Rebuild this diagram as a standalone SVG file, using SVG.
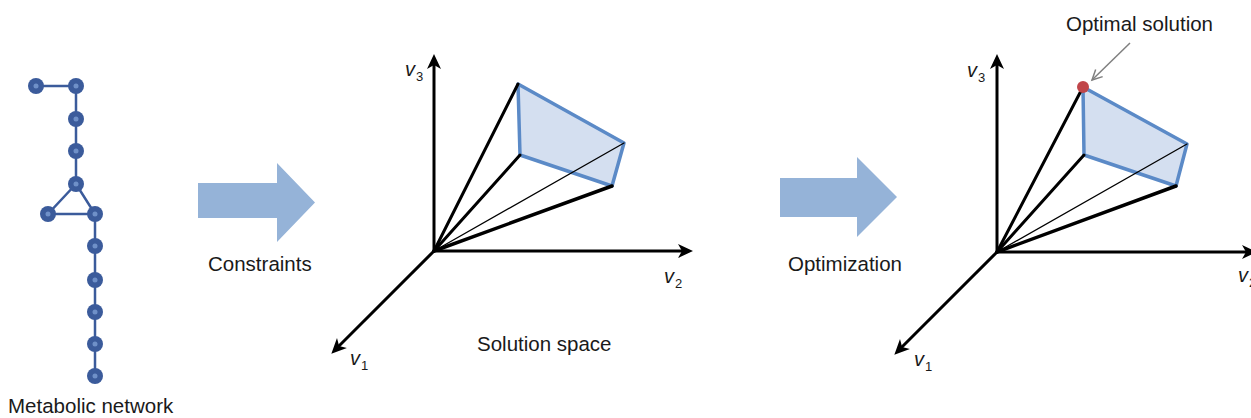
<svg xmlns="http://www.w3.org/2000/svg" width="1251" height="418" viewBox="0 0 1251 418">
  <defs>
    <marker id="ax" markerUnits="userSpaceOnUse" markerWidth="18" markerHeight="14" refX="6" refY="7" orient="auto" overflow="visible">
      <path d="M0,0 L15,7 L0,14 L4,7 Z" fill="#000"/>
    </marker>
    <marker id="gray" markerUnits="userSpaceOnUse" markerWidth="12" markerHeight="12" refX="10" refY="5" orient="auto" overflow="visible">
      <path d="M0,0 L10,5 L0,10" fill="none" stroke="#7f7f7f" stroke-width="1.5"/>
    </marker>
  </defs>
  <style>
    .lbl { font-family: "Liberation Sans", Arial, sans-serif; font-size: 20.5px; fill: #1a1a1a; }
    .var { font-family: "Liberation Sans", Arial, sans-serif; font-size: 20px; font-style: italic; fill: #1a1a1a; }
    .sub { font-family: "Liberation Sans", Arial, sans-serif; font-size: 13px; fill: #1a1a1a; }
    .edge { stroke: #3b5b9b; stroke-width: 2.5; fill: none; }
    .node { fill: #3b5b9b; }
    .core { fill: #6f90c8; }
    .axis { stroke: #000; stroke-width: 3; fill: none; marker-end: url(#ax); }
    .ray { stroke: #000; fill: none; stroke-linecap: round; }
    .face { fill: #d4dff0; stroke: #5b8ac7; stroke-width: 3.5; stroke-linejoin: round; }
    .bigarrow { fill: #95b3d8; }
  </style>

  <!-- Metabolic network -->
  <g id="network">
    <g id="network-edges">
      <path class="edge" d="M36,86 L76,86 L76,184 M76,184 L48,214 L95,214 L76,184 M95,214 L95,376"/>
    </g>
    <g id="n1"><circle class="node" cx="36" cy="86" r="8"/><circle class="core" cx="36" cy="86" r="2.5"/></g>
    <g id="n2"><circle class="node" cx="76" cy="86" r="8"/><circle class="core" cx="76" cy="86" r="2.5"/></g>
    <g id="n3"><circle class="node" cx="76" cy="119" r="8"/><circle class="core" cx="76" cy="119" r="2.5"/></g>
    <g id="n4"><circle class="node" cx="76" cy="151" r="8"/><circle class="core" cx="76" cy="151" r="2.5"/></g>
    <g id="n5"><circle class="node" cx="76" cy="184" r="8"/><circle class="core" cx="76" cy="184" r="2.5"/></g>
    <g id="n6"><circle class="node" cx="48" cy="214" r="8"/><circle class="core" cx="48" cy="214" r="2.5"/></g>
    <g id="n7"><circle class="node" cx="95" cy="214" r="8"/><circle class="core" cx="95" cy="214" r="2.5"/></g>
    <g id="n8"><circle class="node" cx="95" cy="246" r="8"/><circle class="core" cx="95" cy="246" r="2.5"/></g>
    <g id="n9"><circle class="node" cx="95" cy="280" r="8"/><circle class="core" cx="95" cy="280" r="2.5"/></g>
    <g id="n10"><circle class="node" cx="95" cy="312" r="8"/><circle class="core" cx="95" cy="312" r="2.5"/></g>
    <g id="n11"><circle class="node" cx="95" cy="344" r="8"/><circle class="core" cx="95" cy="344" r="2.5"/></g>
    <g id="n12"><circle class="node" cx="95" cy="376" r="8"/><circle class="core" cx="95" cy="376" r="2.5"/></g>
    <text class="lbl" x="8" y="413">Metabolic network</text>
  </g>

  <!-- Constraints arrow -->
  <g id="constraints">
    <path class="bigarrow" d="M198,183 L277,183 L277,163 L315,202.5 L277,242 L277,218 L198,218 Z"/>
    <text class="lbl" x="208" y="271">Constraints</text>
  </g>

  <!-- Solution space panel -->
  <g id="solution-space">
    <polygon class="face" points="518,84 624,143 612,186 520,155"/>
    <line class="ray" x1="434" y1="251" x2="518" y2="84" stroke-width="3"/>
    <line class="ray" x1="434" y1="251" x2="520" y2="155" stroke-width="3"/>
    <line class="ray" x1="434" y1="251" x2="624" y2="143" stroke-width="1.3"/>
    <line class="ray" x1="434" y1="251" x2="612" y2="186" stroke-width="3.5"/>
    <line class="axis" x1="434" y1="252" x2="434" y2="63"/>
    <line class="axis" x1="433" y1="251" x2="684" y2="251"/>
    <line class="axis" x1="435" y1="250" x2="337.7" y2="347.3"/>
    <text class="var" x="405" y="76">v</text><text class="sub" x="416" y="81">3</text>
    <text class="var" x="664" y="283">v</text><text class="sub" x="675" y="288">2</text>
    <text class="var" x="350" y="365">v</text><text class="sub" x="361" y="370">1</text>
    <text class="lbl" x="477" y="351">Solution space</text>
  </g>

  <!-- Optimization arrow -->
  <g id="optimization">
    <path class="bigarrow" d="M780,178 L857,178 L857,157 L897,197 L857,237 L857,217 L780,217 Z"/>
    <text class="lbl" x="788" y="271">Optimization</text>
  </g>

  <!-- Optimal solution panel -->
  <g id="optimal-panel">
    <polygon class="face" points="1083,87 1187,144 1176,186 1084,155"/>
    <line class="ray" x1="997" y1="252" x2="1083" y2="87" stroke-width="3"/>
    <line class="ray" x1="997" y1="252" x2="1084" y2="155" stroke-width="3"/>
    <line class="ray" x1="997" y1="252" x2="1187" y2="144" stroke-width="1.3"/>
    <line class="ray" x1="997" y1="252" x2="1176" y2="186" stroke-width="3.5"/>
    <line class="axis" x1="997" y1="253" x2="997" y2="63"/>
    <line class="axis" x1="996" y1="252" x2="1248" y2="252"/>
    <line class="axis" x1="998" y1="251" x2="900.7" y2="348.3"/>
    <text class="var" x="967" y="77">v</text><text class="sub" x="978" y="82">3</text>
    <text class="var" x="1238" y="282">v</text><text class="sub" x="1249" y="287">2</text>
    <text class="var" x="914" y="366">v</text><text class="sub" x="925" y="371">1</text>
  </g>

  <g id="optimal-solution">
    <circle cx="1083" cy="87" r="6" fill="#c0464a"/>
    <text class="lbl" x="1066" y="31">Optimal solution</text>
  </g>

  <g id="connectors">
    <line x1="1130" y1="43" x2="1092" y2="80" stroke="#7f7f7f" stroke-width="1.5" marker-end="url(#gray)"/>
  </g>
</svg>
